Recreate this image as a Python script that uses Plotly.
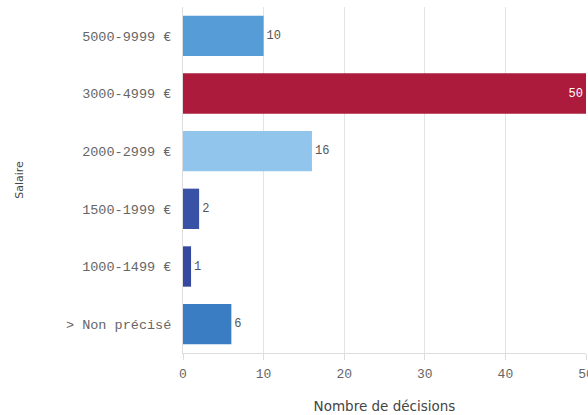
import plotly.graph_objects as go

categories = ["> Non précisé", "1000-1499 €", "1500-1999 €", "2000-2999 €", "3000-4999 €", "5000-9999 €"]
values = [6, 1, 2, 16, 50, 10]
colors = ["#3a7dc3", "#3549a1", "#3a52a5", "#92c5ec", "#ad1b3c", "#569dd7"]
text_pos = ["outside", "outside", "outside", "outside", "inside", "outside"]
x_ticks = [0, 10, 20, 30, 40, 50]

MONO = "Liberation Mono, DejaVu Sans Mono, monospace"

fig = go.Figure(go.Bar(
    y=categories, x=values, orientation="h",
    marker=dict(color=colors, line=dict(width=0)),
    text=[str(v) for v in values], textposition=text_pos,
    insidetextanchor="end", textangle=0, constraintext="none",
    insidetextfont=dict(family=MONO, size=12, color="#ffffff"),
    outsidetextfont=dict(family=MONO, size=12, color="#555555"),
    cliponaxis=False,
))

fig.update_layout(
    width=588, height=415,
    margin=dict(l=183, r=2, t=7, b=62),
    paper_bgcolor="white", plot_bgcolor="white",
    bargap=0.3,
    showlegend=False,
    xaxis=dict(
        range=[0, 50], tickvals=x_ticks, ticktext=[str(v) for v in x_ticks],
        automargin=False, ticklabeloverflow="allow",
        showgrid=True, gridcolor="#e3e3e3", gridwidth=1,
        zeroline=False, showline=True, linecolor="#dddddd", linewidth=1,
        ticks="outside", ticklen=6, tickcolor="#dddddd", ticklabelstandoff=2,
        tickfont=dict(family=MONO, size=13, color="#666666"),
        title=dict(text="Nombre de décisions", font=dict(family="DejaVu Sans", size=13.5, color="#444444"), standoff=20),
    ),
    yaxis=dict(
        automargin=False,
        showgrid=False, zeroline=False, showline=True, linecolor="#dddddd", linewidth=1,
        ticks="", ticklabelstandoff=8,
        tickfont=dict(family=MONO, size=13.5, color="#666666"),
        title=dict(text="Salaire", font=dict(family="DejaVu Sans", size=11, color="#444444"), standoff=40),
    ),
    font=dict(family="DejaVu Sans"),
)

fig.write_html(
    "out.html",
    config={"displayModeBar": False},
    post_script="document.body.style.margin='0';document.body.style.overflow='hidden';",
)
